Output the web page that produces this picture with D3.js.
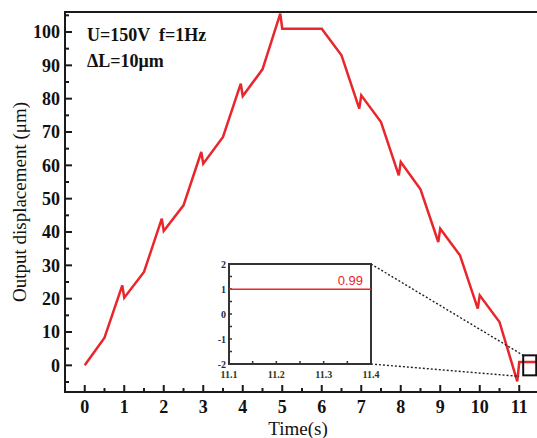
<!DOCTYPE html>
<html>
<head>
<meta charset="utf-8">
<script src="https://cdn.jsdelivr.net/npm/d3@7"></script>
<style>
  html, body { margin: 0; padding: 0; background: #fff; }
  svg { display: block; }
</style>
</head>
<body>
<svg id="chart" width="537" height="438"></svg>
<script>
// Time (s) and measured output displacement (μm), one sweep
const times = [0, 0.5, 0.95, 1, 1.5, 1.95, 2, 2.5, 2.95, 3, 3.5, 3.95, 4, 4.5, 4.95, 5, 6, 6.5, 6.95, 7, 7.5, 7.95, 8, 8.5, 8.95, 9, 9.5, 9.95, 10, 10.5, 10.95, 11, 11.5];
const displacement = [0, 8.3, 24, 20.3, 28, 44, 40.3, 48, 64, 60.5, 68.5, 84.5, 80.8, 88.8, 105.5, 101, 101, 93, 77, 81, 73, 57, 61, 52.8, 37, 41, 33, 17, 21, 13, -4.8, 0.99, 0.99];

// Axis ticks
const xTicks = [0, 1, 2, 3, 4, 5, 6, 7, 8, 9, 10, 11];
const yTicks = [0, 10, 20, 30, 40, 50, 60, 70, 80, 90, 100];

// Zoomed detail window
const insetTimes = [11.1, 11.4];
const insetValues = [0.99, 0.99];
const insetXTicks = [11.1, 11.2, 11.3, 11.4];
const insetYTicks = [-2, -1, 0, 1, 2];
const insetLabel = "0.99";

const annotation1 = "U=150V  f=1Hz";
const annotation2 = "\u0394L=10\u03bcm";

const svg = d3.select("#chart");
const serif = "'Liberation Serif', 'Times New Roman', serif";
const red = "#e8262b";
const axisColor = "#1a1a1a";

const x = d3.scaleLinear().domain([-0.5, 11.5]).range([65, 539]);
const y = d3.scaleLinear().domain([-8, 106]).range([392, 12]);

svg.append("defs").append("clipPath").attr("id", "plotClip")
  .append("rect").attr("x", 65).attr("y", 12).attr("width", 474).attr("height", 380);

// Frame (top and right sides)
svg.append("line").attr("x1", 64).attr("x2", 539).attr("y1", 12).attr("y2", 12)
  .attr("stroke", axisColor).attr("stroke-width", 2);
svg.append("line").attr("x1", 539).attr("x2", 539).attr("y1", 12).attr("y2", 392)
  .attr("stroke", axisColor).attr("stroke-width", 2);

// Bottom axis, ticks pointing inward
const xAxis = svg.append("g").attr("transform", "translate(0,392)");
xAxis.append("line").attr("x1", 64).attr("x2", 539).attr("stroke", axisColor).attr("stroke-width", 2);
d3.range(-0.5, 11.51, 0.5).forEach(t => {
  const major = Number.isInteger(t);
  xAxis.append("line").attr("x1", x(t)).attr("x2", x(t)).attr("y1", 0).attr("y2", major ? -7 : -4)
    .attr("stroke", axisColor).attr("stroke-width", 2);
});
xAxis.selectAll("text.tick").data(xTicks).join("text")
  .attr("x", d => x(d)).attr("y", 21)
  .attr("text-anchor", "middle")
  .attr("font-family", serif).attr("font-weight", "bold").attr("font-size", 18)
  .attr("fill", "#111").text(d => d);

// Left axis, ticks pointing inward
const yAxis = svg.append("g").attr("transform", "translate(65,0)");
yAxis.append("line").attr("y1", 11).attr("y2", 393).attr("stroke", axisColor).attr("stroke-width", 2);
d3.range(-5, 106, 5).forEach(v => {
  const major = v % 10 === 0;
  yAxis.append("line").attr("x1", 0).attr("x2", major ? 7 : 4).attr("y1", y(v)).attr("y2", y(v))
    .attr("stroke", axisColor).attr("stroke-width", 2);
});
yAxis.selectAll("text.tick").data(yTicks).join("text")
  .attr("x", -5).attr("y", d => y(d)).attr("dy", "0.35em")
  .attr("text-anchor", "end")
  .attr("font-family", serif).attr("font-weight", "bold").attr("font-size", 18)
  .attr("fill", "#111").text(d => d);

// Axis titles
svg.append("text").attr("x", 298).attr("y", 435).attr("text-anchor", "middle")
  .attr("font-family", serif).attr("font-size", 19).attr("fill", "#111").text("Time(s)");
svg.append("text").attr("transform", "translate(26,202) rotate(-90)").attr("text-anchor", "middle")
  .attr("font-family", serif).attr("font-size", 19).attr("fill", "#111").text("Output displacement (\u03bcm)");

// Test conditions
svg.append("text").attr("x", 87).attr("y", 41)
  .attr("font-family", serif).attr("font-weight", "bold").attr("font-size", 18)
  .attr("fill", "#111").attr("xml:space", "preserve").style("white-space", "pre").text(annotation1);
svg.append("text").attr("x", 87).attr("y", 67)
  .attr("font-family", serif).attr("font-weight", "bold").attr("font-size", 18)
  .attr("fill", "#111").text(annotation2);

// Displacement trace
const line = d3.line().x((d, i) => x(times[i])).y(d => y(d));
svg.append("path").datum(displacement)
  .attr("clip-path", "url(#plotClip)")
  .attr("d", line)
  .attr("fill", "none").attr("stroke", red).attr("stroke-width", 2.5)
  .attr("stroke-linejoin", "miter");

// Inset: zoomed view of the settled value
const ix = d3.scaleLinear().domain([11.1, 11.4]).range([229, 371]);
const iy = d3.scaleLinear().domain([-2, 2]).range([364, 264]);

// Marker box on the main trace and connector lines
const boxX0 = x(11.1), boxX1 = x(11.43), boxY0 = y(3), boxY1 = y(-3);
svg.append("line").attr("x1", ix.range()[1]).attr("y1", iy(2)).attr("x2", boxX0).attr("y2", boxY0)
  .attr("stroke", "#222").attr("stroke-width", 1.4).attr("stroke-dasharray", "2,2");
svg.append("line").attr("x1", ix.range()[1]).attr("y1", iy(-2)).attr("x2", boxX0 - 4).attr("y2", boxY1 + 1)
  .attr("stroke", "#222").attr("stroke-width", 1.4).attr("stroke-dasharray", "2,2");
svg.append("rect").attr("x", boxX0).attr("y", boxY0).attr("width", boxX1 - boxX0).attr("height", boxY1 - boxY0)
  .attr("fill", "none").attr("stroke", "#111").attr("stroke-width", 2);

const inset = svg.append("g");
inset.append("rect").attr("x", 229).attr("y", 264).attr("width", 142).attr("height", 100)
  .attr("fill", "#fff").attr("stroke", "#333").attr("stroke-width", 2);

d3.range(11.1, 11.401, 0.05).forEach(t => {
  inset.append("line").attr("x1", ix(t)).attr("x2", ix(t)).attr("y1", 364).attr("y2", 361)
    .attr("stroke", "#333").attr("stroke-width", 1.5);
});
d3.range(-2, 2.01, 0.5).forEach(v => {
  inset.append("line").attr("x1", 229).attr("x2", 232).attr("y1", iy(v)).attr("y2", iy(v))
    .attr("stroke", "#333").attr("stroke-width", 1.5);
});
inset.selectAll("text.xt").data(insetXTicks).join("text")
  .attr("x", d => ix(d)).attr("y", 378).attr("text-anchor", "middle")
  .attr("font-family", serif).attr("font-weight", "bold").attr("font-size", 10)
  .attr("fill", "#2b3518").text(d => d.toFixed(1));
inset.selectAll("text.yt").data(insetYTicks).join("text")
  .attr("x", 226).attr("y", d => iy(d)).attr("dy", "0.35em").attr("text-anchor", "end")
  .attr("font-family", serif).attr("font-weight", "bold").attr("font-size", 10)
  .attr("fill", "#25284a").text(d => d);

inset.append("path").datum(insetValues)
  .attr("d", d3.line().x((d, i) => ix(insetTimes[i])).y(d => iy(d)))
  .attr("stroke", red).attr("stroke-width", 1.6).attr("fill", "none");
inset.append("text").attr("x", 363).attr("y", 285).attr("text-anchor", "end")
  .attr("font-family", "'Liberation Sans', Arial, sans-serif").attr("font-size", 13)
  .attr("fill", red).text(insetLabel);
</script>
</body>
</html>
